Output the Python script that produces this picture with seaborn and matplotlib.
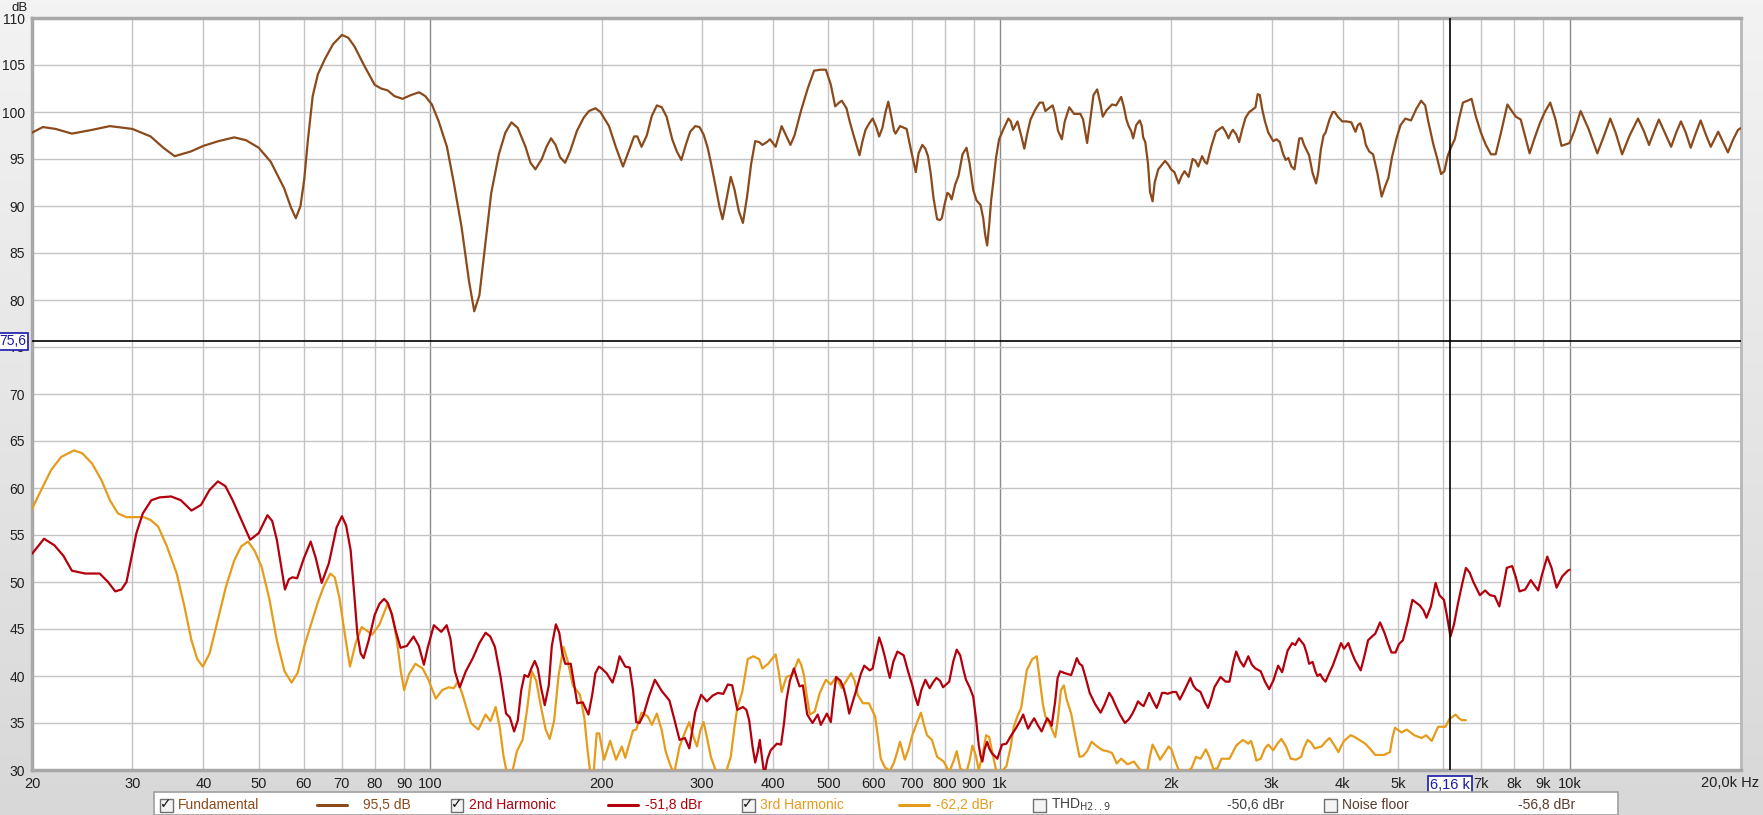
import numpy as np
import pandas as pd
import matplotlib
matplotlib.use("Agg")
import matplotlib.pyplot as plt
import matplotlib.transforms as mtrans
from matplotlib.colors import LinearSegmentedColormap
from matplotlib.patches import Rectangle
from matplotlib.lines import Line2D
import seaborn as sns

# ---------------- data ----------------
fund = [(20,97.8),(20.9,98.4),(22,98.2),(23.5,97.7),(25.5,98.1),(27.4,98.5),(30,98.2),(32.3,97.4),(34,96.2),(35.6,95.3),(38,95.8),(40,96.4),(42.5,96.9),(45.3,97.3),(47.5,97),(50,96.2),(52.5,94.7),(55.4,91.9),(57,89.8),(58.1,88.7),(59.2,90),(60.1,92.8),(61,97),(62.2,101.7),(63.5,104),(65.3,105.6),(67.5,107.2),(70,108.2),(71.8,107.9),(73.6,107),(76.5,105),(79.9,102.9),(82,102.5),(84.2,102.3),(86.5,101.7),(89.4,101.4),(92.5,101.8),(95.6,102.1),(98,101.7),(100.7,100.8),(103.5,99.0),(107,96.3),(110,92.5),(113.5,87.8),(117,82),(119.5,78.8),(122,80.5),(125,86),(128,91.4),(132,95.5),(135.5,97.8),(138.9,98.9),(142.5,98.3),(147,96.3),(150,94.6),(153,93.9),(157,95.0),(160,96.3),(163,97.2),(166,96.5),(169,95.2),(172.5,94.6),(176,95.8),(181,98.0),(186,99.4),(190,100.1),(195,100.4),(199,100.0),(206,98.5),(212,96.2),(218,94.2),(223,95.8),(228,97.4),(231,97.4),(235,96.3),(240,97.5),(245,99.6),(250,100.7),(255,100.5),(260,99.5),(266,97.1),(271,95.8),(276,94.9),(281,96.5),(286,97.9),(292,98.5),(297,98.4),(302,97.6),(307,96.2),(311,94.6),(316,92.5),(322,89.9),(326,88.6),(330,90.2),(337,93.1),(342,91.8),(348,89.5),(354,88.2),(360,91),(366,94.5),(372,96.9),(378,96.8),(383,96.5),(390,96.8),(395,97.1),(404,96.3),(409,97.4),(414,98.5),(420,97.7),(429,96.5),(436,97.5),(448,100.2),(460,102.5),(472,104.4),(485,104.5),(495,104.5),(505,102.9),(514,100.6),(522,101.0),(528,101.2),(538,100.4),(545,99),(552,97.8),(560,96.5),(567,95.4),(574,96.9),(581,98.1),(590,98.8),(598,99.3),(606,98.5),(614,97.4),(622,98.3),(630,100),(637,101.1),(645,99.5),(652,98),(656,97.7),(668,98.5),(686,98.2),(698,96),(712,93.6),(720,95.6),(731,96.5),(740,96.1),(748,95.3),(756,93.5),(765,90.8),(776,88.6),(785,88.5),(791,88.7),(800,90.2),(809,91.4),(816,91.2),(823,90.7),(835,92.3),(846,93.2),(860,95.5),(874,96.2),(885,94.5),(898,91.7),(910,90.6),(925,90.1),(935,88.7),(942,87),(950,85.8),(958,88),(965,90.5),(975,92.8),(985,95.2),(997,97.1),(1015,98.2),(1035,99.3),(1045,99),(1055,98.1),(1074,99.0),(1090,97.5),(1104,96.1),(1118,97.8),(1132,99.2),(1155,100.3),(1175,101),(1190,101),(1202,100.1),(1225,100.5),(1238,100.7),(1250,99.8),(1265,98),(1285,97.1),(1300,99.0),(1324,100.5),(1350,99.8),(1385,99.8),(1400,99.2),(1423,96.7),(1440,99),(1460,101.8),(1482,102.4),(1500,101),(1516,99.5),(1540,100.2),(1574,100.8),(1600,100.7),(1633,101.6),(1650,100.6),(1668,99.2),(1683,98.5),(1700,98),(1714,97.2),(1735,98.6),(1760,99.1),(1775,98.5),(1785,97.3),(1800,96.8),(1820,94.5),(1835,91.5),(1854,90.5),(1870,92.5),(1897,93.9),(1920,94.3),(1950,94.8),(1975,94.4),(1998,93.9),(2025,93.6),(2060,92.4),(2085,93.2),(2110,93.7),(2145,93.1),(2180,95),(2205,94.8),(2230,94.2),(2265,95.3),(2290,94.7),(2310,94.5),(2350,96.3),(2395,97.9),(2430,98.2),(2460,98.4),(2490,97.9),(2520,97.2),(2545,97.8),(2565,98.1),(2600,97.6),(2630,96.8),(2665,98.2),(2700,99.4),(2740,100),(2770,100.2),(2810,100.5),(2835,101.9),(2860,101.8),(2890,100.2),(2920,99),(2960,97.8),(3020,96.9),(3060,97.1),(3100,96.8),(3140,95.6),(3175,94.9),(3210,95.1),(3250,94.2),(3290,93.9),(3320,95.5),(3355,97.2),(3390,97.2),(3420,96.5),(3490,95.4),(3540,93.5),(3590,92.4),(3620,93.5),(3660,96),(3700,97.5),(3730,97.8),(3790,99.2),(3840,100),(3870,100),(3920,99.5),(3990,99),(4060,99),(4140,98.9),(4180,98.3),(4210,97.9),(4250,98.6),(4290,98.8),(4340,98),(4390,96.5),(4450,95.8),(4520,95.5),(4600,93.5),(4680,91),(4740,92),(4810,93),(4880,95.2),(4970,97.2),(5050,98.6),(5150,99.3),(5270,99.1),(5380,100.3),(5490,101.2),(5580,100.7),(5650,99),(5770,96.5),(5850,95.2),(5950,93.4),(6030,93.7),(6110,95.3),(6200,96.3),(6290,97.1),(6400,99.3),(6500,101),(6620,101.2),(6730,101.4),(6850,99.5),(6990,97.8),(7130,96.5),(7280,95.5),(7420,95.5),(7580,97.8),(7780,100.8),(7900,100.2),(8050,99.5),(8210,99.2),(8350,97.5),(8510,95.6),(8680,97.2),(8870,98.8),(9050,100),(9250,101),(9450,99.2),(9680,96.4),(10000,96.7),(10200,98),(10460,100.1),(10800,98.2),(11190,95.6),(11500,97.5),(11790,99.3),(12050,97.8),(12370,95.5),(12750,97.5),(13190,99.3),(13500,98),(13790,96.5),(14050,97.8),(14350,99.2),(14700,97.8),(15080,96.3),(15390,97.8),(15690,99),(16000,97.8),(16320,96.2),(16650,97.7),(16990,99.1),(17350,97.6),(17700,96.3),(18240,97.9),(18600,96.8),(18970,95.7),(19350,97),(19760,98.1),(20000,98.3)]

h2 = [(20,53),(21,54.6),(21.9,53.9),(22.7,52.8),(23.5,51.2),(24.8,50.9),(26.3,50.9),(27.2,50),(28,49),(28.7,49.2),(29.3,50),(30.5,55.2),(31.3,57.3),(32.4,58.7),(33.5,59),(35.1,59.1),(36.5,58.7),(38.1,57.6),(39.6,58.2),(41,59.8),(42.4,60.7),(43.7,60.2),(45,58.7),(46.7,56.5),(48.3,54.5),(50,55.2),(51.8,57.1),(52.8,56.5),(53.8,54.5),(54.8,51.5),(55.6,49.2),(56.5,50.3),(57.3,50.5),(58.4,50.4),(60,52.5),(61.7,54.3),(63,52.5),(64.5,49.9),(66.4,52),(68.5,55.8),(70,57),(71.2,56),(72.5,53.4),(73.5,49),(74.5,44.5),(75.5,42.4),(76.4,41.9),(78,43.8),(79.9,46.5),(81.5,47.7),(83,48.2),(84.2,47.8),(85.5,46.7),(87,44.8),(88.7,43),(91,43.2),(93.5,44.2),(95.5,43.2),(97.5,41.2),(99,43),(101.5,45.4),(104.6,44.7),(106.9,45.4),(108.5,44),(110.5,40.5),(112.7,38.8),(115.5,40.5),(118.8,41.9),(122,43.5),(125.1,44.6),(127.5,44.2),(129.9,43.1),(133,39.8),(135.9,36),(138,35.6),(140.4,34.1),(142.5,35.3),(144.5,38.5),(146.4,40.1),(148.6,39.9),(150.5,40.8),(152.6,41.6),(154.5,40.8),(156.5,38.8),(158.9,36.9),(161.5,39),(163.5,43.2),(166.2,45.5),(168.5,44.6),(170.5,42.5),(172.6,41.3),(176.5,41.3),(178.5,39.5),(181.2,37.1),(185.3,37.2),(187.5,36.5),(189.6,35.9),(192.5,38),(195,40.3),(197.8,41),(200,40.8),(204,40.3),(209,39.3),(212,40.5),(215,42.1),(220,41),(224,40.9),(227,38.5),(230,35.1),(233,35),(237,35.9),(242,37.8),(248,39.6),(255,38.4),(263,37.4),(268,35.5),(274,33.2),(280,33.4),(285,32.3),(288,34),(292,36.2),(299,38),(306,37.3),(313,37.9),(320,38.2),(327,38.1),(333,39.1),(339,39),(343,37.5),(346,36.4),(354,36.7),(359,36.4),(363,35.3),(368,32.5),(372,30.8),(376,32),(379,33.2),(382,31.5),(386,29.5),(391,31.2),(396,32.1),(406,32.8),(413,32.7),(418,35),(422,37.4),(428,39.5),(435,40.8),(440,39.8),(445,38.9),(451,39),(455,37.5),(459,35.9),(469,35),(479,35.9),(485,34.8),(497,36),(505,35.1),(510,37.5),(516,39.9),(525,39.5),(532,38.7),(538,37.5),(544,36),(552,37.3),(561,38.7),(570,40.2),(578,41.1),(591,40.6),(598,40.8),(606,42.5),(614,44.1),(621,43.2),(628,42.1),(635,40.8),(641,39.8),(650,41.5),(661,42.6),(678,42.2),(690,40.5),(702,39),(710,37.8),(718,36.9),(728,38.5),(740,39.6),(753,38.7),(763,39.3),(774,39.8),(785,39.5),(795,38.8),(805,39.1),(815,39.4),(828,41.5),(840,42.8),(852,42.2),(862,40.8),(872,39.6),(885,38.8),(898,37.8),(908,35.5),(918,32.7),(925,31.5),(932,30.9),(940,32.2),(950,33),(958,32.3),(968,31.8),(990,31.2),(1000,32),(1009,32.7),(1027,32.8),(1045,33.6),(1066,34.4),(1085,35.2),(1099,35.9),(1110,35.1),(1121,34.4),(1135,35),(1149,35.5),(1165,34.8),(1184,34.1),(1197,34.8),(1211,35.5),(1222,35.2),(1233,34.7),(1250,37.2),(1263,39.8),(1276,40.5),(1289,40.4),(1301,40.3),(1318,40.2),(1334,40.1),(1350,41),(1365,41.9),(1380,41.3),(1395,41.1),(1415,39.8),(1438,38.2),(1470,37),(1503,36.1),(1528,37),(1556,38.2),(1575,37.7),(1596,36.9),(1625,35.9),(1658,35),(1685,35.4),(1709,36),(1728,36.6),(1748,37.3),(1768,37),(1788,36.8),(1808,37.5),(1829,38.2),(1855,37.4),(1885,36.6),(1905,37.3),(1926,38.2),(1950,38.2),(1970,38.1),(1990,38.2),(2014,38.3),(2040,38.3),(2070,37.5),(2110,38.5),(2160,39.8),(2185,39),(2210,38.6),(2250,38.3),(2290,37.2),(2320,36.6),(2350,37.6),(2380,38.8),(2440,39.9),(2490,39.4),(2530,39.4),(2570,41.5),(2600,42.6),(2640,41.6),(2680,41),(2730,42.1),(2770,41.2),(2810,40.8),(2870,40.5),(2920,39.4),(2970,38.6),(3020,39.5),(3080,41.1),(3130,40.4),(3200,42.7),(3260,43.5),(3300,43.3),(3350,44),(3420,43.3),(3460,42.3),(3490,41.3),(3540,41.5),(3580,40.5),(3610,40),(3650,40.2),(3690,39.7),(3730,39.4),(3780,40.2),(3840,41.1),(3900,42.2),(3970,43.5),(4020,42.9),(4090,43.5),(4140,42.6),(4200,41.7),(4300,40.6),(4360,42),(4430,43.8),(4500,44.2),(4560,44.5),(4650,45.7),(4740,44.5),(4800,43.5),(4870,42.5),(4950,42.5),(5020,43.4),(5100,43.8),(5200,45.8),(5300,48.1),(5460,47.5),(5540,47),(5610,46.2),(5710,47.4),(5820,49.9),(5910,48.6),(6020,48.1),(6090,46.5),(6180,44.2),(6270,45.5),(6370,47.7),(6480,49.8),(6580,51.5),(6680,51),(6780,50),(6960,48.6),(7110,49.1),(7250,48.6),(7390,48.5),(7530,47.4),(7650,49.5),(7760,51.5),(7930,51.7),(8050,50.5),(8170,49),(8360,49.2),(8550,50.2),(8810,49.1),(8950,50.8),(9140,52.7),(9300,51.5),(9490,49.4),(9710,50.6),(9930,51.2),(10000,51.3)]

h3 = [(20,57.8),(21.6,61.9),(22.5,63.3),(23.7,64),(24.5,63.7),(25.5,62.6),(26.5,60.8),(27.4,58.7),(28.3,57.3),(29.3,56.9),(30.3,56.9),(31.4,56.9),(32.3,56.6),(33.3,55.9),(34.5,53.8),(35.9,50.9),(37,47.5),(38.1,43.8),(39,41.8),(39.9,41),(41,42.4),(42.4,46),(43.8,49.5),(45.3,52.3),(46.6,53.8),(47.9,54.3),(49.2,53.3),(50.6,51.6),(52.2,48.2),(53.8,43.8),(55.5,40.5),(57.1,39.3),(58.5,40.3),(60.2,43.3),(62,45.8),(63.4,47.7),(65,49.5),(66.8,50.9),(68,50.5),(69.3,48.3),(70.8,44.5),(72.3,41),(74,43.5),(75.8,45.2),(77.5,44.8),(79.1,44.4),(81.5,45.5),(84.2,47.7),(85.8,46.5),(87.4,43.8),(88.8,40.5),(90,38.5),(91.8,40.2),(94.2,41.3),(97,40.8),(99.3,39.6),(102.3,37.6),(105,38.5),(107.8,38.8),(110,38.7),(111.9,39.4),(114,38),(117.9,35),(121.5,34.3),(125.1,35.9),(127.6,35.2),(130.3,36.7),(132.5,34.5),(134.5,31.5),(136.5,29.5),(139,29.5),(142,32),(145.3,33.2),(148,36.5),(150.8,40.5),(153.5,39.5),(156.5,36.7),(159.5,34.3),(162.1,33.3),(165,35.2),(168,40),(171.4,43.1),(174.5,41.5),(178,39),(183.2,38),(186.5,35.5),(189,32),(191.2,29.5),(193.5,29.5),(196,33.9),(198,33.9),(202,31.1),(207,33.1),(212,31.1),(217,32.5),(220,31.3),(227,34.2),(230,34.3),(235,36.1),(241,35.7),(245,34.8),(250,36),(255,34.2),(259,32),(264,30.5),(268,29.6),(274,32.5),(280,34),(285,35.1),(290,33.5),(294,32.5),(298,34.2),(302,35.1),(306,33.5),(311,31.4),(316,30.2),(320,29.6),(330,29.6),(337,31.4),(342,34.5),(346,36.6),(353,38.3),(361,41.8),(369,42.1),(378,41.8),(383,40.8),(392,41.3),(398,41.8),(404,42.3),(409,40.5),(414,38.3),(422,39.9),(432,40.1),(443,41.8),(448,41.2),(453,40.1),(458,38),(464,35.9),(473,36.2),(483,38.2),(495,39.6),(505,39.1),(516,39.9),(528,38.7),(538,39.5),(548,40.3),(556,39.5),(563,38),(575,37.1),(589,37.1),(604,35.7),(611,33.5),(618,31.2),(628,30.3),(641,29.9),(652,30.8),(661,32),(668,33),(681,31.1),(692,32.3),(702,33.7),(715,35),(727,36.1),(736,34.8),(745,33.7),(760,33.2),(776,31.4),(797,30.9),(815,29.8),(830,31),(840,32),(852,30.2),(872,29.6),(885,31),(895,32.6),(908,31.5),(918,30),(932,31.5),(946,33.7),(958,33.5),(968,32.1),(985,30),(1005,29.8),(1027,30.4),(1045,32.5),(1058,34.6),(1075,35.8),(1090,36.6),(1102,38.5),(1115,40.6),(1140,41.8),(1161,42.1),(1170,40.5),(1179,38.9),(1190,37),(1202,35.7),(1225,34.8),(1251,33.5),(1265,35.5),(1280,38.5),(1295,39),(1310,37.5),(1334,36),(1355,33.8),(1380,31.4),(1400,31.5),(1423,32),(1449,33),(1482,32.5),(1516,32.1),(1545,32),(1574,31.8),(1604,30.7),(1633,31.2),(1676,30.6),(1719,30.9),(1764,30),(1812,29.6),(1835,31.5),(1854,32.7),(1880,32),(1911,31.1),(1945,31.8),(1979,32.5),(2000,32.2),(2028,31.1),(2060,30),(2130,29.8),(2170,30.2),(2210,31.4),(2250,31.2),(2300,32.2),(2335,31.3),(2370,30.1),(2410,30.2),(2450,31.2),(2530,31.2),(2600,32.6),(2670,33.2),(2730,32.8),(2760,33.1),(2790,32.2),(2820,31),(2870,31.2),(2920,32.3),(2960,32.7),(3020,32.1),(3070,32.8),(3120,33.3),(3180,32.5),(3240,31.2),(3310,31.1),(3380,31.4),(3420,32.4),(3470,33.2),(3520,32.9),(3570,32.3),(3670,32.5),(3730,33),(3790,33.4),(3850,32.8),(3930,31.9),(3970,32.5),(4020,33.1),(4130,33.7),(4200,33.5),(4300,33.1),(4380,32.8),(4460,32.3),(4560,31.6),(4720,31.6),(4840,31.9),(4890,33.5),(4940,34.5),(5070,34),(5180,34.3),(5260,34),(5340,33.7),(5500,33.4),(5600,33.7),(5730,33.1),(5800,33.8),(5880,34.6),(6060,34.6),(6150,35.4),(6310,35.9),(6400,35.5),(6470,35.3),(6580,35.3)]

fund_f = [p[0] for p in fund]; fund_db = [p[1] for p in fund]
h2_f = [p[0] for p in h2]; h2_db = [p[1] for p in h2]
h3_f = [p[0] for p in h3]; h3_db = [p[1] for p in h3]

x_ticks = [20, 30, 40, 50, 60, 70, 80, 90, 100, 200, 300, 400, 500, 600, 700, 800, 900,
           1000, 2000, 3000, 4000, 5000, 7000, 8000, 9000, 10000]
x_labels = ["20", "30", "40", "50", "60", "70", "80", "90", "100", "200", "300", "400", "500",
            "600", "700", "800", "900", "1k", "2k", "3k", "4k", "5k", "7k", "8k", "9k", "10k"]
x_end_label = "20,0k Hz"
x_grid_minor = [30, 40, 50, 60, 70, 80, 90, 200, 300, 400, 500, 600, 700, 800, 900,
                2000, 3000, 4000, 5000, 6000, 7000, 8000, 9000]
x_grid_major = [100, 1000, 10000]
y_ticks = list(range(30, 111, 5))
cursor_f = 6160
cursor_db = 75.6

legend_items = [
    ("Fundamental", "95,5 dB", "#8b4a1c", True, True),
    ("2nd Harmonic", "-51,8 dBr", "#b3000c", True, True),
    ("3rd Harmonic", "-62,2 dBr", "#e59c1c", True, True),
    ("THD$_{\\rm H2..9}$", "-50,6 dBr", "#404040", False, False),
    ("Noise floor", "-56,8 dBr", "#5a3a28", False, False),
]

# ---------------- figure ----------------
sns.set_theme(style="white")
plt.rcParams['font.family'] = ['Liberation Sans', 'DejaVu Sans']
narrow = ['Liberation Sans Narrow', 'Liberation Sans', 'DejaVu Sans']

W, H = 1763, 815
fig = plt.figure(figsize=(W / 100, H / 100), dpi=100)

bg = fig.add_axes([0, 0, 1, 1], zorder=-10)
grad = np.linspace(0, 1, 256).reshape(-1, 1)
cmap = LinearSegmentedColormap.from_list("bg", ["#f3f3f3", "#d8d8d8"])
bg.imshow(grad, aspect="auto", cmap=cmap, extent=[0, 1, 0, 1], origin="upper")
bg.axis("off")

L, R, T, B = 32, 1741, 18, 770
ax = fig.add_axes([L / W, 1 - B / H, (R - L) / W, (B - T) / H])
ax.set_facecolor("white")

for f in x_grid_minor:
    ax.axvline(f, color="#c4c4c4", lw=1.0, zorder=1)
for f in x_grid_major:
    ax.axvline(f, color="#8a8a8a", lw=1.0, zorder=1)
for y in y_ticks[1:-1]:
    ax.axhline(y, color="#c4c4c4", lw=1.0, zorder=1)

sns.lineplot(x=fund_f, y=fund_db, ax=ax, color="#8b4a1c", lw=1.6, estimator=None, zorder=3)
sns.lineplot(x=h3_f, y=h3_db, ax=ax, color="#e59c1c", lw=1.6, estimator=None, zorder=3)
sns.lineplot(x=h2_f, y=h2_db, ax=ax, color="#b3000c", lw=1.6, estimator=None, zorder=4)
for ln in ax.lines:
    ln.set_solid_joinstyle("round")

ax.axhline(cursor_db, color="black", lw=1.2, zorder=5)
ax.axvline(cursor_f, color="black", lw=1.2, zorder=5)

ax.set_xscale("log")
ax.set_xlim(20, 20000)
ax.set_ylim(30, 110)
ax.set_xticks(x_ticks)
ax.set_xticklabels(x_labels, family=narrow, fontsize=10.5, color="#202020")
ax.xaxis.set_minor_locator(matplotlib.ticker.NullLocator())
ax.set_yticks(y_ticks)
ax.set_yticklabels([str(v) for v in y_ticks], fontsize=10, color="#202020")
ax.tick_params(axis="both", length=0)
ax.tick_params(axis="x", pad=5)
ax.tick_params(axis="y", pad=5)
ax.set_xlabel("")
ax.set_ylabel("")
for s in ["left", "bottom", "top"]:
    ax.spines[s].set_color("#a8a8a8")
    ax.spines[s].set_linewidth(2.5)
ax.spines["right"].set_color("#b8b8b8")
ax.spines["right"].set_linewidth(2)

# end label of the frequency axis
fig.text(1759 / W, 1 - 783 / H, x_end_label, ha="right", va="center", fontsize=10.5,
         family=narrow, color="#202020")

# cursor readouts
bl_y = mtrans.blended_transform_factory(ax.transAxes, ax.transData)
ax.text(-0.0035, cursor_db, "75,6", transform=bl_y, ha="right", va="center", fontsize=10,
        color="#1a1aa8", zorder=10, clip_on=False,
        bbox=dict(boxstyle="square,pad=0.12", fc="white", ec="#1a1aa8", lw=1.2))
bl_x = mtrans.blended_transform_factory(ax.transData, ax.transAxes)
ax.text(cursor_f, -0.0105, "6,16 k", transform=bl_x, ha="center", va="top", fontsize=10.5,
        family=narrow, color="#1a1aa8", zorder=10, clip_on=False,
        bbox=dict(boxstyle="square,pad=0.15", fc="white", ec="#1a1aa8", lw=1.2))

fig.text(20 / W, 1 - 8 / H, "dB", ha="center", va="center", fontsize=9.5, color="#202020")

# ---------------- legend strip ----------------
fig.patches.append(Rectangle((154 / W, 0), (1618 - 154) / W, 23 / H, transform=fig.transFigure,
                             fc="white", ec="#a0a0a0", lw=1.2, zorder=1))
yc = 1 - 805 / H
for i, (name, val, col, checked, has_line) in enumerate(legend_items):
    cx = 166 + 291 * i
    fig.patches.append(Rectangle(((cx - 6.5) / W, yc - 6.5 / H), 13 / W, 13 / H, transform=fig.transFigure,
                                 fc="#f4f4f4", ec="#707070", lw=1.0, zorder=2))
    if checked:
        fig.text(cx / W, yc + 0.5 / H, "\u2713", ha="center", va="center", fontsize=10,
                 family=["DejaVu Sans"], color="#101010", zorder=3, weight="bold")
    fig.text((cx + 12) / W, yc, name, ha="left", va="center", fontsize=10,
             family=narrow, color=col, zorder=3)
    if has_line:
        fig.lines.append(Line2D([(cx + 151) / W, (cx + 181) / W], [yc, yc], transform=fig.transFigure,
                                color=col, lw=2.2, zorder=3))
    fig.text((cx + 245) / W, yc, val, ha="right", va="center", fontsize=10,
             family=narrow, color=col, zorder=3)

fig.savefig("out.png", dpi=100)
